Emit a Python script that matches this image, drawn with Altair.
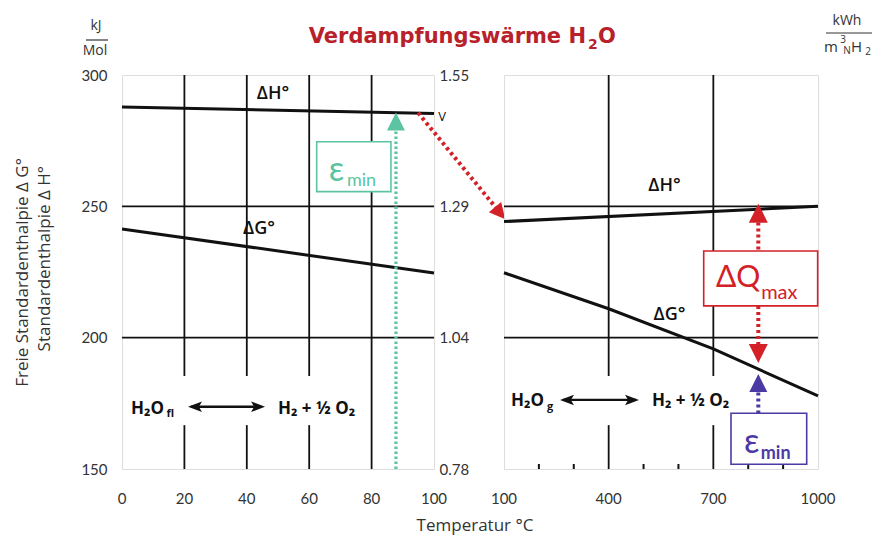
import altair as alt
import pandas as pd

FONT = "Lato"
AFONT = "Open Sans"
BLACK = "#111111"
TXT = "#333333"
RED = "#d42128"
TITLE_RED = "#b8202a"
GREEN = "#5cc4a2"
BLUE = "#4b3aa3"

# ---------------- data ----------------
left_T = [0, 100]
left_dH = [287.8, 285.3]
left_dG = [241.4, 224.6]

right_dH_T = [100, 1000]
right_dH = [244.2, 250.0]
right_dG_T = [100, 400, 700, 1000]
right_dG = [224.7, 211.0, 195.7, 177.8]

kj_ticks = [150, 200, 250, 300]
mid_labels = ["0.78", "1.04", "1.29", "1.55"]
right_labels = ["1.86", "2.48", "3.10", "3.72"]
left_x_ticks = [0, 20, 40, 60, 80, 100]
right_x_ticks = [100, 400, 700, 1000]
grid_v = [200, 250]
left_grid_full = [80]
left_grid_broken = [20, 40, 60]
right_grid_broken = [400, 700]
right_minor = [200, 300, 500, 600, 800, 900]
gap_v = [166.7, 185.4]

W_L, W_R, H = 312, 314, 394
scL = alt.Scale(domain=[0, 100], nice=False, zero=False)
scR = alt.Scale(domain=[100, 1000], nice=False, zero=False)
scY = alt.Scale(domain=[150, 300], nice=False, zero=False)

TRI_UP = "M0,-1L1,1L-1,1Z"
TRI_DOWN = "M0,1L1,-1L-1,-1Z"
HEAD_L = "M-1,0L1,-0.75L0.55,0L1,0.75Z"
HEAD_R = "M1,0L-1,-0.75L-0.55,0L-1,0.75Z"


def label_expr(vals, labels):
    parts = [f"datum.value == {v} ? '{l}'" for v, l in zip(vals, labels)]
    return " : ".join(parts) + " : ''"


def yaxis(orient, pad, expr=None):
    kw = dict(orient=orient, values=kj_ticks, title=None, domain=False, ticks=False,
              tickSize=0, grid=False, labelPadding=pad, labelFontSize=15,
              labelColor=TXT, labelFont=FONT, labelFlush=False, labelOverlap=False)
    if expr:
        kw["labelExpr"] = expr
    return alt.Axis(**kw)


def X(sc, f="T", axis=None):
    return alt.X(f"{f}:Q", scale=sc, axis=axis)


def Y(f="v", axis=None):
    return alt.Y(f"{f}:Q", scale=scY, axis=axis)


def line(sc, T, v, yax=None):
    return alt.Chart(pd.DataFrame({"T": T, "v": v})).mark_line(
        color=BLACK, strokeWidth=3).encode(x=X(sc), y=Y(axis=yax))


def xlabels(sc, ticks):
    # bottom tick labels, placed by the x scale
    return alt.Chart(pd.DataFrame({"T": ticks, "s": [str(t) for t in ticks]})).mark_text(
        fontSize=15, color=TXT, font=FONT, baseline="middle").encode(
        x=X(sc), y=alt.value(H + 30), text="s:N")


def vseg(sc, T, v1, v2, color, width=3.2, dash=(2.6, 2.4)):
    return alt.Chart(pd.DataFrame({"T": [T], "v": [v1], "v2": [v2]})).mark_rule(
        color=color, strokeWidth=width, strokeDash=list(dash)).encode(
        x=X(sc), y=Y(), y2="v2:Q")


def head(sc, T, v, shape, color, size, angle=0):
    return alt.Chart(pd.DataFrame({"T": [T], "v": [v]})).mark_point(
        shape=shape, filled=True, size=size, color=color, opacity=1,
        angle=angle, strokeWidth=0).encode(x=X(sc), y=Y())


def box(sc, T1, T2, v1, v2, color):
    return alt.Chart(pd.DataFrame({"T": [T1], "T2": [T2], "v": [v1], "v2": [v2]})).mark_rect(
        fill="white", stroke=color, strokeWidth=1.6).encode(
        x=X(sc), x2="T2:Q", y=Y(), y2="v2:Q")


def text(sc, T, v, s, size, color=BLACK, weight="normal", align="center",
         baseline="middle", font=FONT):
    return alt.Chart(pd.DataFrame({"T": [T], "v": [v], "s": [s]})).mark_text(
        fontSize=size, color=color, fontWeight=weight, align=align,
        baseline=baseline, font=font).encode(x=X(sc), y=Y(), text="s:N")


def ptext(x, y, s, size, color=TXT, weight="normal", align="center",
          baseline="middle", angle=0, font=AFONT):
    return alt.Chart(pd.DataFrame({"s": [s]})).mark_text(
        fontSize=size, color=color, fontWeight=weight, align=align,
        baseline=baseline, angle=angle, font=font).encode(
        x=alt.value(x), y=alt.value(y), text="s:N")


def prule(x1, x2, y, color=TXT, width=1.2):
    return alt.Chart(pd.DataFrame({"a": [0]})).mark_rule(
        color=color, strokeWidth=width).encode(
        x=alt.value(x1), x2=alt.value(x2), y=alt.value(y))


def broken_rules(sc, Ts):
    rows = []
    for t in Ts:
        rows.append({"T": t, "v": 300, "v2": gap_v[1]})
        rows.append({"T": t, "v": gap_v[0], "v2": 150})
    return alt.Chart(pd.DataFrame(rows)).mark_rule(color=BLACK, strokeWidth=1.8).encode(
        x=X(sc), y=Y(), y2="v2:Q")


def reaction(sc, T_h2o, T_sub, sub, v_base, v_sub, T_arrow, T_heads, v_arrow, T_prod):
    return [
        text(sc, T_h2o, v_base, "H₂O", 17, weight="bold", align="left",
             baseline="alphabetic", font=AFONT),
        text(sc, T_sub, v_sub, sub, 11, weight="bold", align="left",
             baseline="alphabetic", font=AFONT),
        alt.Chart(pd.DataFrame({"T": [T_arrow[0]], "T2": [T_arrow[1]], "v": [v_arrow]})).mark_rule(
            color=BLACK, strokeWidth=2.4).encode(x=X(sc), x2="T2:Q", y=Y()),
        head(sc, T_heads[0], v_arrow, HEAD_L, BLACK, 196),
        head(sc, T_heads[1], v_arrow, HEAD_R, BLACK, 196),
        text(sc, T_prod, v_base, "H₂ + ½ O₂", 17, weight="bold", align="left",
             baseline="alphabetic", font=AFONT),
    ]


# ---------------- left panel ----------------
left_layers = [
    line(scL, left_T, left_dH, yax=yaxis("left", 15)),
    alt.Chart(pd.DataFrame({"v": grid_v})).mark_rule(color=BLACK, strokeWidth=1.8).encode(
        y=Y(axis=yaxis("right", 5, label_expr(kj_ticks, mid_labels)))),
    alt.Chart(pd.DataFrame({"T": left_grid_full})).mark_rule(color=BLACK, strokeWidth=1.8).encode(
        x=X(scL)),
    broken_rules(scL, left_grid_broken),
    line(scL, left_T, left_dG),
    xlabels(scL, left_x_ticks),
    text(scL, 48.4, 292.8, "ΔH°", 18, weight=600, font=AFONT),
    text(scL, 43.9, 241.4, "ΔG°", 18, weight=600, font=AFONT),
    text(scL, 102.6, 284.0, "V", 13, font=AFONT),
    # green epsilon_min arrow
    vseg(scL, 87.8, 150, 278.9, GREEN),
    head(scL, 87.8, 282.3, TRI_UP, GREEN, 324),
    box(scL, 62.4, 86.2, 255.6, 274.6, GREEN),
    text(scL, 66.3, 259.6, "ε", 34, color=GREEN, align="left", baseline="alphabetic"),
    text(scL, 72.1, 257.7, "min", 18, color=GREEN, align="left", baseline="alphabetic"),
    # red diagonal arrow to the vapour side
    alt.Chart(pd.DataFrame({"T": [94.9], "T2": [119.9], "v": [285.6], "v2": [249.4]})).mark_rule(
        color=RED, strokeWidth=4, strokeDash=[3.2, 3.2]).encode(
        x=X(scL), x2="T2:Q", y=Y(), y2="v2:Q"),
    head(scL, 121.2, 247.4, TRI_UP, RED, 256, angle=140),
    # anchor (fixes the page origin)
    alt.Chart(pd.DataFrame({"a": [0]})).mark_rect(fill="white").encode(
        x=alt.value(-121), x2=alt.value(-120), y=alt.value(-74), y2=alt.value(-73)),
    # title
    ptext(464, -31.7, "Verdampfungswärme H", 21, color=TITLE_RED, weight="bold",
          align="right", baseline="alphabetic", font="DejaVu Sans"),
    ptext(466, -26.5, "2", 14, color=TITLE_RED, weight="bold", align="left",
          baseline="alphabetic", font="DejaVu Sans"),
    ptext(476, -31.7, "O", 21, color=TITLE_RED, weight="bold", align="left",
          baseline="alphabetic", font="DejaVu Sans"),
    # units left
    ptext(-26, -49, "kJ", 14),
    prule(-36, -14, -35),
    ptext(-27, -24, "Mol", 14),
    # y titles
    ptext(-99, 83, "Freie Standardenthalpie  Δ G°", 17, angle=270, align="right"),
    ptext(-77, 91, "Standardenthalpie Δ H°", 17, angle=270, align="right"),
    # x title
    ptext(353, 456, "Temperatur °C", 17, baseline="alphabetic"),
]
left_layers += reaction(scL, 2.9, 14.3, "fl", 171.0, 169.9, (22.1, 44.6), (23.4, 43.6), 173.7, 50.0)

left = alt.layer(*left_layers).resolve_axis(y="independent").properties(width=W_L, height=H)

# ---------------- right panel ----------------
right_layers = [
    line(scR, right_dH_T, right_dH, yax=yaxis("right", 10, label_expr(kj_ticks, right_labels))),
    alt.Chart(pd.DataFrame({"v": grid_v})).mark_rule(color=BLACK, strokeWidth=1.8).encode(
        y=Y()),
    broken_rules(scR, right_grid_broken),
    alt.Chart(pd.DataFrame({"T": right_minor, "v": [150] * len(right_minor),
                            "v2": [151.9] * len(right_minor)})).mark_rule(
        color=BLACK, strokeWidth=2).encode(x=X(scR), y=Y(), y2="v2:Q"),
    line(scR, right_dG_T, right_dG),
    xlabels(scR, right_x_ticks),
    text(scR, 560, 257.7, "ΔH°", 18, weight=600, font=AFONT),
    text(scR, 574.4, 208.8, "ΔG°", 18, weight=600, font=AFONT),
    # red delta Q max double arrow
    head(scR, 828.9, 247.4, TRI_UP, RED, 361),
    vseg(scR, 828.9, 243.8, 233.0, RED, width=4, dash=(3, 3)),
    vseg(scR, 828.9, 212.1, 197.5, RED, width=4, dash=(3, 3)),
    head(scR, 828.9, 194.0, TRI_DOWN, RED, 361),
    box(scR, 672.4, 999.0, 212.1, 233.0, RED),
    text(scR, 707.6, 219.3, "ΔQ", 30, color=RED, align="left", baseline="alphabetic"),
    text(scR, 837.0, 214.7, "max", 20, color=RED, align="left", baseline="alphabetic"),
    # blue epsilon_min arrow
    head(scR, 828.9, 182.7, TRI_UP, BLUE, 324),
    vseg(scR, 828.9, 179.1, 171.2, BLUE, width=4, dash=(3, 3)),
    box(scR, 750.6, 967.6, 151.8, 171.2, BLUE),
    text(scR, 787.9, 156.1, "ε", 34, color=BLUE, align="left", baseline="alphabetic"),
    text(scR, 836.0, 153.8, "min", 18, color=BLUE, weight="bold", align="left", baseline="alphabetic"),
    # units right
    ptext(343, -54, "kWh", 14),
    prule(322, 368, -42),
    ptext(320, -23, "m", 15, align="left", baseline="alphabetic"),
    ptext(339, -35, "3", 10),
    ptext(343, -24, "N", 10),
    ptext(347, -23, "H", 15, align="left", baseline="alphabetic"),
    ptext(364, -23.5, "2", 10),
]
right_layers += reaction(scR, 120.1, 223.2, "g", 174.0, 172.5, (269.1, 478.3), (280.6, 466.9), 176.3, 524.2)

right = alt.layer(*right_layers).properties(width=W_R, height=H)

chart = alt.hconcat(left, right, spacing=70, bounds="flush").resolve_scale(
    x="independent", y="independent").properties(padding=0).configure_view(
    stroke=BLACK, strokeWidth=2).configure(background="white")

chart.save("out.html", embed_options={"renderer": "svg", "actions": False})
